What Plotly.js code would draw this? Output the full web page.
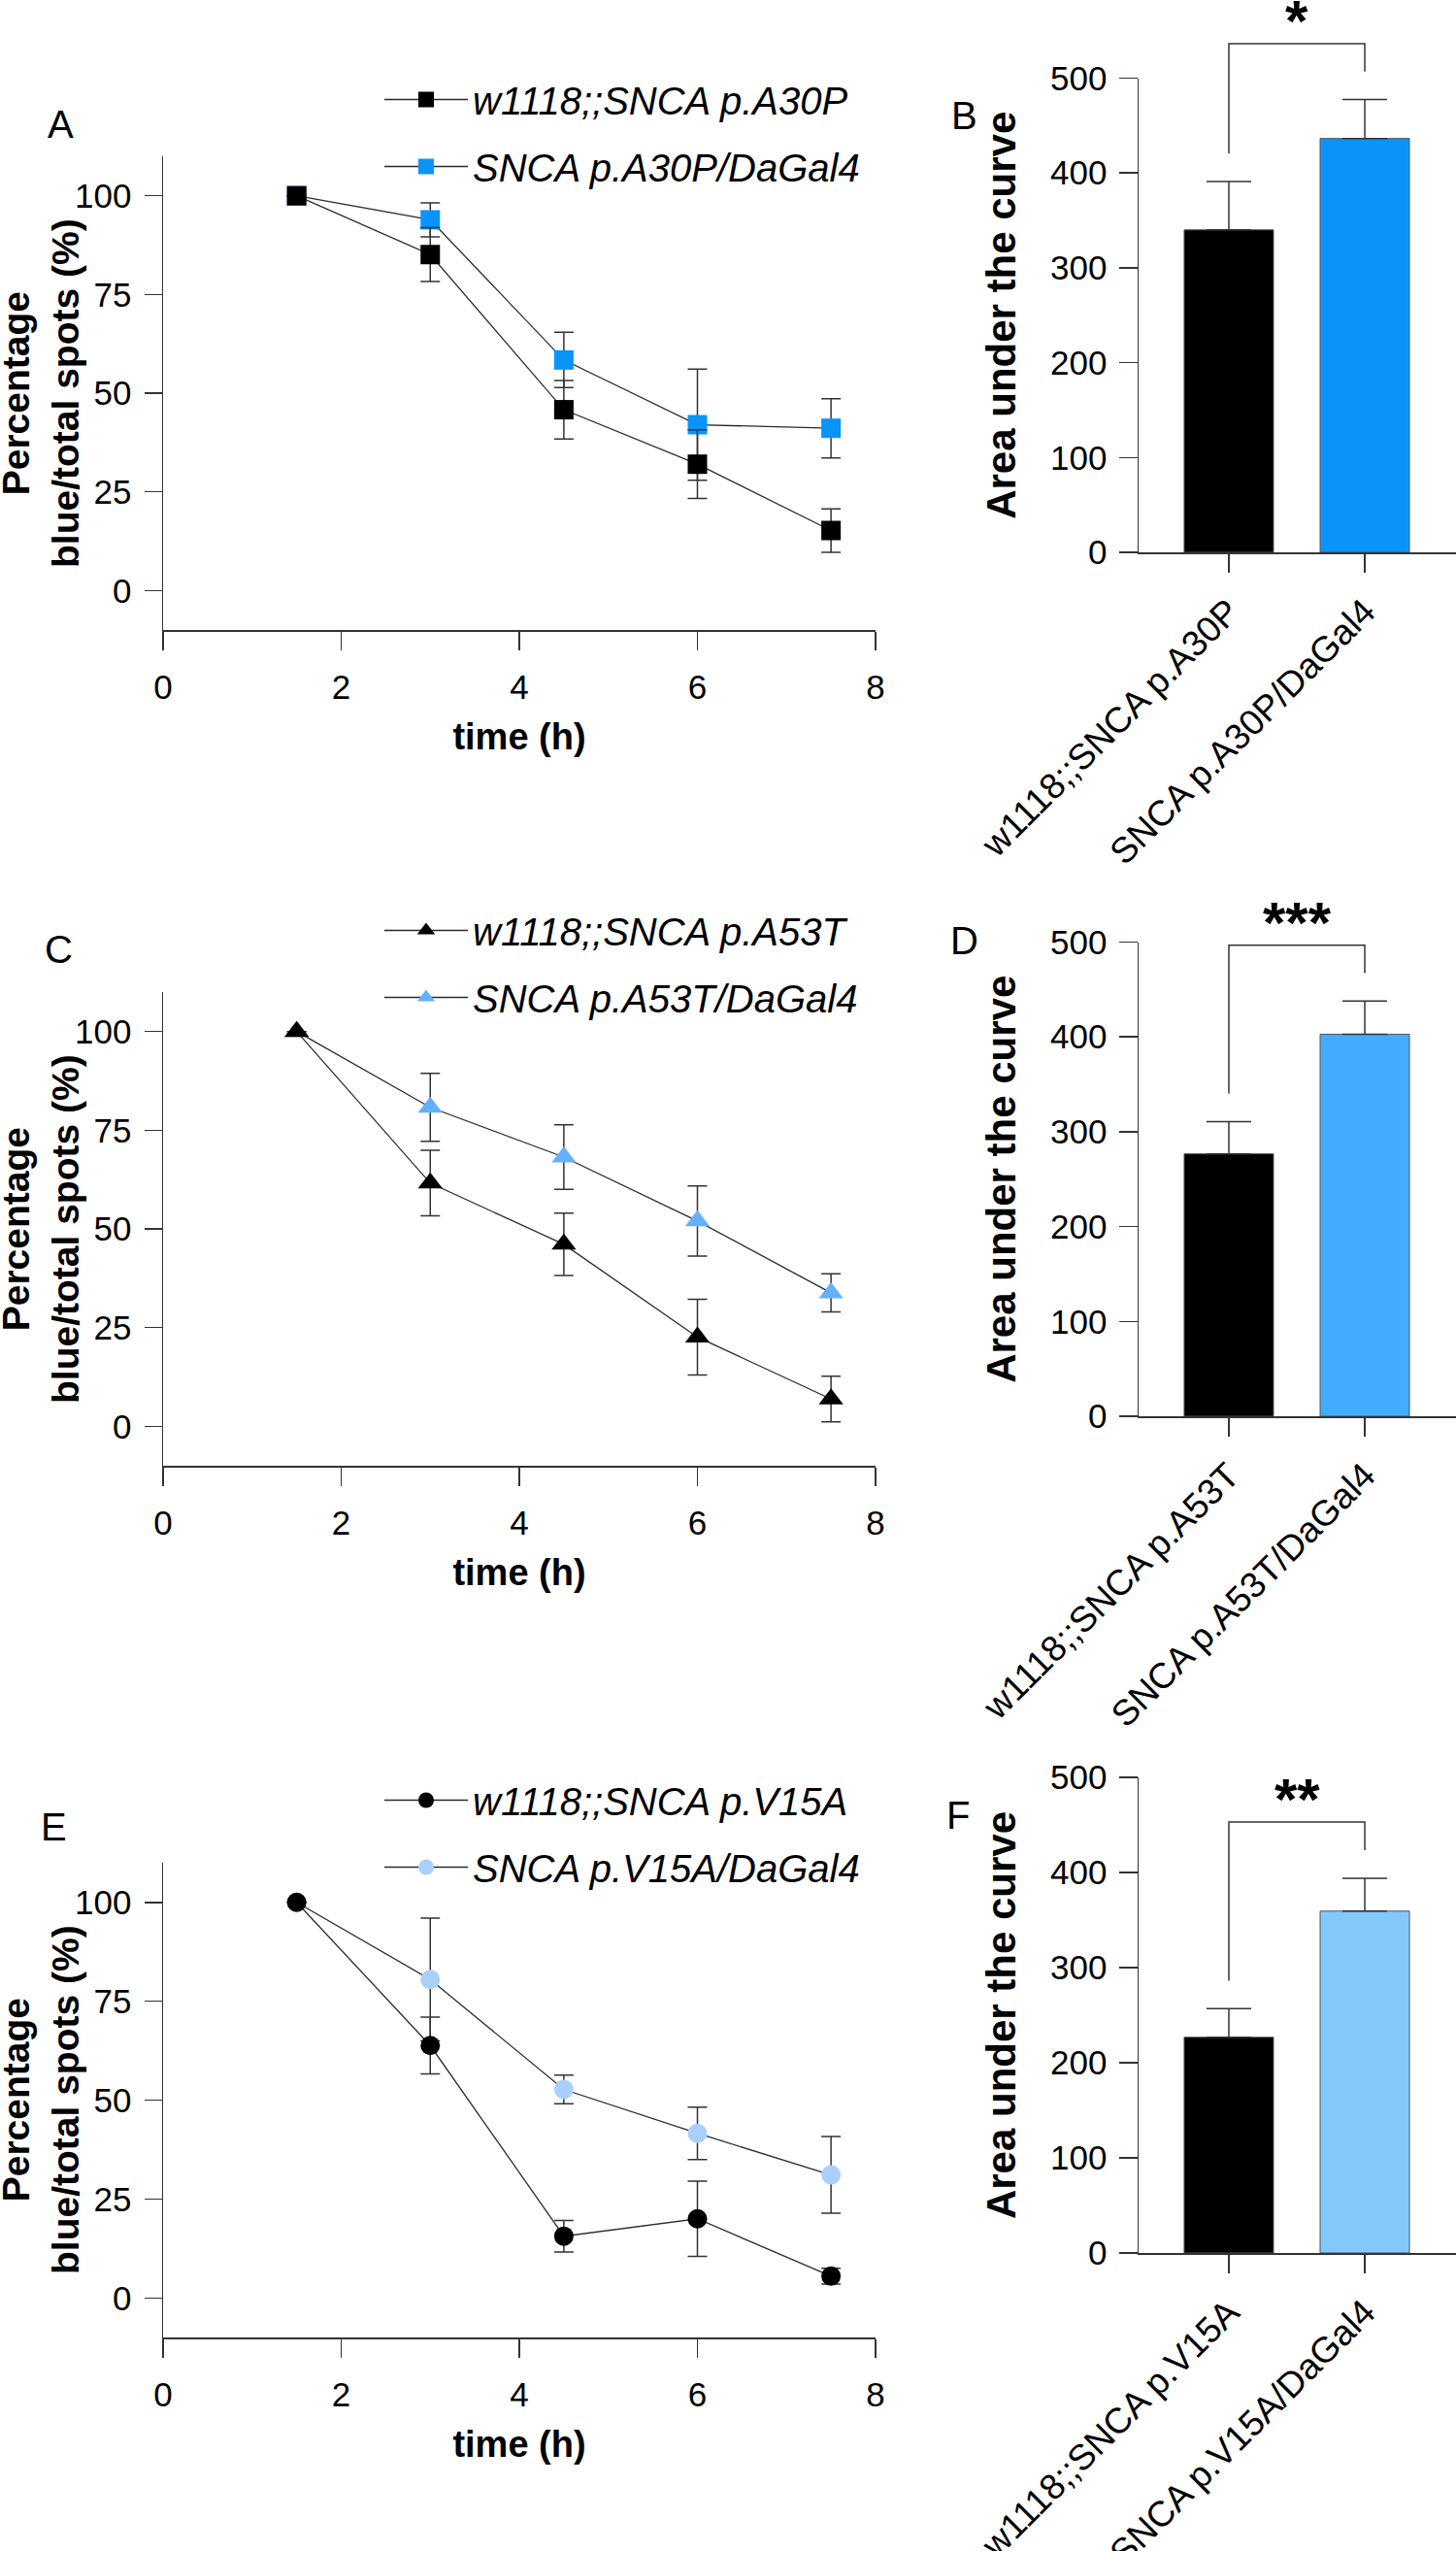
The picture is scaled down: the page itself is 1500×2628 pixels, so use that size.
<!DOCTYPE html>
<html>
<head>
<meta charset="utf-8">
<script src="https://cdn.plot.ly/plotly-3.0.1.min.js"></script>
<style>html,body{margin:0;padding:0;background:#fff;}#chart{width:1500px;height:2628px;}</style>
</head>
<body>
<div id="chart"></div>
<script>
// ---------- data ----------
const timeH = [1.5, 3, 4.5, 6, 7.5];

// Panel A (A30P)
const a30pCtrl = [100, 85.1, 45.8, 32.0, 15.2];
const a30pCtrlErr = [0, 6.8, 7.4, 8.7, 5.5];
const a30pDa = [100, 93.9, 58.4, 42.0, 41.1];
const a30pDaErr = [0, 4.3, 7.0, 14.1, 7.5];

// Panel C (A53T)
const a53tCtrl = [100, 61.6, 46.1, 22.6, 6.9];
const a53tCtrlErr = [0, 8.3, 7.9, 9.6, 5.8];
const a53tDa = [100, 80.8, 68.2, 52.0, 33.8];
const a53tDaErr = [0, 8.6, 8.2, 8.9, 4.8];

// Panel E (V15A)
const v15aCtrl = [100, 63.8, 15.6, 20.0, 5.5];
const v15aCtrlErr = [0, 7.2, 4.0, 9.5, 2.0];
const v15aDa = [100, 80.5, 52.7, 41.6, 31.1];
const v15aDaErr = [0, 15.5, 3.6, 6.6, 9.7];

// Area under the curve
const catA30P = ['w1118;;SNCA p.A30P', 'SNCA p.A30P/DaGal4'];
const aucA30P = [340, 436.4];
const aucA30PErr = [51, 41];
const sigA30P = '*';

const catA53T = ['w1118;;SNCA p.A53T', 'SNCA p.A53T/DaGal4'];
const aucA53T = [276.7, 402.8];
const aucA53TErr = [34, 35];
const sigA53T = '***';

const catV15A = ['w1118;;SNCA p.V15A', 'SNCA p.V15A/DaGal4'];
const aucV15A = [226.8, 359.4];
const aucV15AErr = [30, 34.6];
const sigV15A = '**';

const yTicksLine = [0, 25, 50, 75, 100];
const xTicksLine = [0, 2, 4, 6, 8];
const yTicksBar = [0, 100, 200, 300, 400, 500];

// ---------- helpers ----------
const W = 1500, H = 2628;
const FONT = 'Arial, "Liberation Sans", Helvetica, sans-serif';
const AX = '#333333';
const px = v => v / W;
const py = v => 1 - v / H;

const BAR_XRANGE = [-0.664, 1.671];
const BAR_YRANGE = [0, 500];

const colors = {
  blackC: '#000000',
  a30p: '#0A94FA',
  a53t: '#64B0FF',
  v15a: '#A9CFFC',
  barA30P: '#0A94FA',
  barA53T: '#42ACFF',
  barV15A: '#82C8FA'
};

function lineTrace(y, err, name, sym, color, xa, ya, leg, rank) {
  return {
    type: 'scatter', mode: 'lines+markers', x: timeH, y: y, name: name,
    xaxis: xa, yaxis: ya, legend: leg, legendgroup: leg + name, legendrank: rank,
    line: {color: '#2a2a2a', width: 1.3},
    marker: {symbol: sym, size: sym === 'triangle-up' ? 22 : 20, color: color, line: {width: 0}},
    error_y: {type: 'data', array: err, visible: true, color: AX, thickness: 1.5, width: 10},
    cliponaxis: false
  };
}

function barTrace(vals, err, cols, xa, ya) {
  return {
    type: 'bar', x: [0, 1], y: vals, xaxis: xa, yaxis: ya, width: 0.657,
    showlegend: false,
    marker: {color: cols, line: {color: '#555', width: 1}},
    error_y: {type: 'data', symmetric: false, array: err, arrayminus: err.map(() => 0),
              color: AX, thickness: 1.5, width: 23}
  };
}

const traces = [
  lineTrace(a30pDa, a30pDaErr, 'SNCA p.A30P/DaGal4', 'square', colors.a30p, 'x', 'y', 'legend', 2),
  lineTrace(a30pCtrl, a30pCtrlErr, 'w1118;;SNCA p.A30P', 'square', colors.blackC, 'x', 'y', 'legend', 1),
  barTrace(aucA30P, aucA30PErr, [colors.blackC, colors.barA30P], 'x2', 'y2'),
  lineTrace(a53tDa, a53tDaErr, 'SNCA p.A53T/DaGal4', 'triangle-up', colors.a53t, 'x3', 'y3', 'legend2', 2),
  lineTrace(a53tCtrl, a53tCtrlErr, 'w1118;;SNCA p.A53T', 'triangle-up', colors.blackC, 'x3', 'y3', 'legend2', 1),
  barTrace(aucA53T, aucA53TErr, [colors.blackC, colors.barA53T], 'x4', 'y4'),
  lineTrace(v15aDa, v15aDaErr, 'SNCA p.V15A/DaGal4', 'circle', colors.v15a, 'x5', 'y5', 'legend3', 2),
  lineTrace(v15aCtrl, v15aCtrlErr, 'w1118;;SNCA p.V15A', 'circle', colors.blackC, 'x5', 'y5', 'legend3', 1),
  barTrace(aucV15A, aucV15AErr, [colors.blackC, colors.barV15A], 'x6', 'y6')
];

const tickFont = {family: FONT, size: 35, color: '#000'};

function lineX(anchor) {
  return {
    domain: [px(168), px(902)], anchor: anchor, range: [0, 8],
    tickvals: xTicksLine, ticks: 'outside', ticklen: 19, tickwidth: 1.5, tickcolor: AX,
    showline: true, linecolor: AX, linewidth: 1.5, showgrid: false, zeroline: false,
    tickfont: tickFont, ticklabelstandoff: 8,
    title: {text: 'time (h)', font: {family: FONT, size: 38, color: '#000', weight: 700}, standoff: 20}
  };
}
function lineY(anchor, top, bottom) {
  return {
    domain: [py(bottom), py(top)], anchor: anchor, range: [-10, 110],
    tickvals: yTicksLine, ticks: 'outside', ticklen: 18, tickwidth: 1.5, tickcolor: AX,
    showline: true, linecolor: AX, linewidth: 1.5, showgrid: false, zeroline: false,
    tickfont: tickFont, ticklabelstandoff: 6
  };
}
function barX(anchor, cats) {
  return {
    domain: [px(1173), px(1500)], anchor: anchor, range: BAR_XRANGE,
    tickvals: [0, 1], ticktext: cats, tickangle: -45,
    ticks: 'outside', ticklen: 19, tickwidth: 1.5, tickcolor: AX,
    showline: true, linecolor: AX, linewidth: 1.5, showgrid: false, zeroline: false,
    tickfont: {family: FONT, size: 37, color: '#000'}, ticklabelstandoff: 4
  };
}
function barY(anchor, top, bottom) {
  return {
    domain: [py(bottom), py(top)], anchor: anchor, range: BAR_YRANGE,
    tickvals: yTicksBar, ticks: 'outside', ticklen: 19, tickwidth: 1.5, tickcolor: AX,
    showline: true, linecolor: AX, linewidth: 1.5, showgrid: false, zeroline: false,
    tickfont: {family: FONT, size: 35, color: '#000'}, ticklabelstandoff: 5,
    title: {text: 'Area under the curve', font: {family: FONT, size: 42, color: '#000', weight: 700}, standoff: 22}
  };
}

// convert bar-axis data values to axis-domain fractions (so the bracket is not clipped)
const xd = v => (v - BAR_XRANGE[0]) / (BAR_XRANGE[1] - BAR_XRANGE[0]);
const yd = v => (v - BAR_YRANGE[0]) / (BAR_YRANGE[1] - BAR_YRANGE[0]);

function bracket(vals, err, xa, ya, label) {
  const tops = vals.map((v, i) => v + err[i]);
  const yb = Math.max(...tops) + 59;
  const shape = {
    type: 'path', xref: xa + ' domain', yref: ya + ' domain',
    path: `M${xd(0)},${yd(tops[0] + 29.5)} L${xd(0)},${yd(yb)} L${xd(1)},${yd(yb)} L${xd(1)},${yd(tops[1] + 29.5)}`,
    line: {color: AX, width: 1.5}
  };
  const ann = {
    xref: xa + ' domain', yref: ya + ' domain', x: xd(0.5), y: yd(yb), text: label, showarrow: false,
    xanchor: 'center', yanchor: 'bottom', yshift: -12,
    font: {family: FONT, size: 60, color: '#000', weight: 700}
  };
  return {shape, ann};
}
const bB = bracket(aucA30P, aucA30PErr, 'x2', 'y2', sigA30P);
const bD = bracket(aucA53T, aucA53TErr, 'x4', 'y4', sigA53T);
const bF = bracket(aucV15A, aucV15AErr, 'x6', 'y6', sigV15A);

function panelLabel(t, x, y) {
  return {xref: 'paper', yref: 'paper', x: px(x), y: py(y), text: t, showarrow: false,
          xanchor: 'center', yanchor: 'middle', font: {family: FONT, size: 40, color: '#000'}};
}
function yTitle(cy) {
  return {xref: 'paper', yref: 'paper', x: px(42), y: py(cy), textangle: -90,
          text: 'Percentage<br>blue/total spots (%)', showarrow: false,
          xanchor: 'center', yanchor: 'middle',
          font: {family: FONT, size: 39, color: '#000', weight: 700}};
}

function legendBox(topPx) {
  return {
    xref: 'paper', yref: 'paper', x: px(391), y: py(topPx),
    xanchor: 'left', yanchor: 'top', bgcolor: 'rgba(0,0,0,0)', borderwidth: 0,
    font: {family: FONT, size: 40, color: '#000', style: 'italic'},
    itemwidth: 86, tracegroupgap: 14, traceorder: 'grouped'
  };
}

const layout = {
  width: W, height: H,
  margin: {l: 0, r: 0, t: 0, b: 0},
  paper_bgcolor: '#fff', plot_bgcolor: 'rgba(0,0,0,0)',
  font: {family: FONT, color: '#000'},
  xaxis: lineX('y'), yaxis: lineY('x', 161, 649),
  xaxis2: barX('y2', catA30P), yaxis2: barY('x2', 80.5, 569),
  xaxis3: lineX('y3'), yaxis3: lineY('x3', 1022, 1510),
  xaxis4: barX('y4', catA53T), yaxis4: barY('x4', 970.5, 1459),
  xaxis5: lineX('y5'), yaxis5: lineY('x5', 1919, 2408),
  xaxis6: barX('y6', catV15A), yaxis6: barY('x6', 1831, 2321),
  legend: legendBox(70), legend2: legendBox(926), legend3: legendBox(1822),
  shapes: [bB.shape, bD.shape, bF.shape],
  annotations: [
    bB.ann, bD.ann, bF.ann,
    yTitle(405), yTitle(1266), yTitle(2163),
    panelLabel('A', 62, 128), panelLabel('B', 994, 119),
    panelLabel('C', 60, 978), panelLabel('D', 994, 969),
    panelLabel('E', 55, 1882), panelLabel('F', 987, 1870)
  ],
  bargap: 0
};

Plotly.newPlot('chart', traces, layout, {staticPlot: true, displayModeBar: false});
</script>
</body>
</html>
